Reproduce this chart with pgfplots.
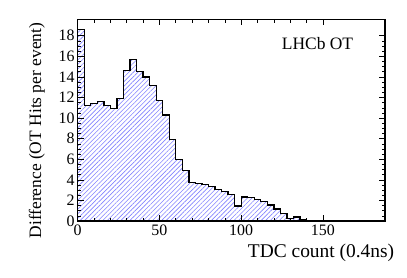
\documentclass[border=0pt]{standalone}
\usepackage{fontspec}
\setmainfont{Liberation Serif}
\usepackage{pgfplots}
\pgfplotsset{compat=1.18}
\usetikzlibrary{patterns,patterns.meta}
\definecolor{hatchblue}{RGB}{130,130,255}
\begin{document}
\begin{tikzpicture}
\useasboundingbox (-77.7bp,-57bp) rectangle (329.3bp,221bp);
\begin{axis}[
  at={(0,0)}, anchor=south west,
  scale only axis, width=307.3bp, height=201.7bp,
  xmin=0, xmax=188, ymin=0, ymax=19.6,
  xtick={0,50,100,150}, minor x tick num=4,
  ytick={0,2,...,18}, minor y tick num=3,
  tick align=inside,
  major tick length=6bp, minor tick length=3.5bp,
  axis line style={line width=1.3bp},
  every tick/.style={black, line width=0.6bp},
  tick label style={font=\fontsize{16}{17}\selectfont},
  /pgf/number format/assume math mode=true,
  xticklabel style={yshift=-0.5bp},
  yticklabel style={xshift=0.5bp},
  xlabel={TDC count (0.4ns)},
  ylabel={Difference (OT Hits per event)},
  xlabel style={at={(axis description cs:1.0413,-0.1785)}, anchor=base east, font=\fontsize{19.5}{20}\selectfont},
  ylabel style={at={(axis description cs:-0.1194,1)}, anchor=base east, font=\fontsize{17.5}{18}\selectfont},
  axis on top,
]
\addplot[const plot, draw=black, line width=1.3bp,
  pattern={Lines[angle=45,distance=3.2bp,line width=0.6bp]}, pattern color=hatchblue]
coordinates {
(0,18.6) (4,11.2) (8,11.4) (12,11.6) (16,11.2) (20,10.9) (24,11.9) (28,14.6)
(32,15.7) (36,14.5) (40,14.0) (44,13.2) (48,11.7) (52,10.3) (56,7.9) (60,6.0)
(64,4.9) (68,3.76) (72,3.66) (76,3.57) (80,3.34) (84,3.08) (88,2.85) (92,2.59)
(96,1.46) (100,2.33) (104,2.27) (108,2.11) (112,1.88) (116,1.56) (120,1.17)
(124,0.75) (128,0.26) (132,0.39) (136,0.16) (140,0.03) (144,0) (188,0)
} \closedcycle;
\node[anchor=base west, font=\fontsize{17.5}{18}\selectfont] at (axis description cs:0.653,0.851) {LHCb OT};
\end{axis}
\end{tikzpicture}
\end{document}
